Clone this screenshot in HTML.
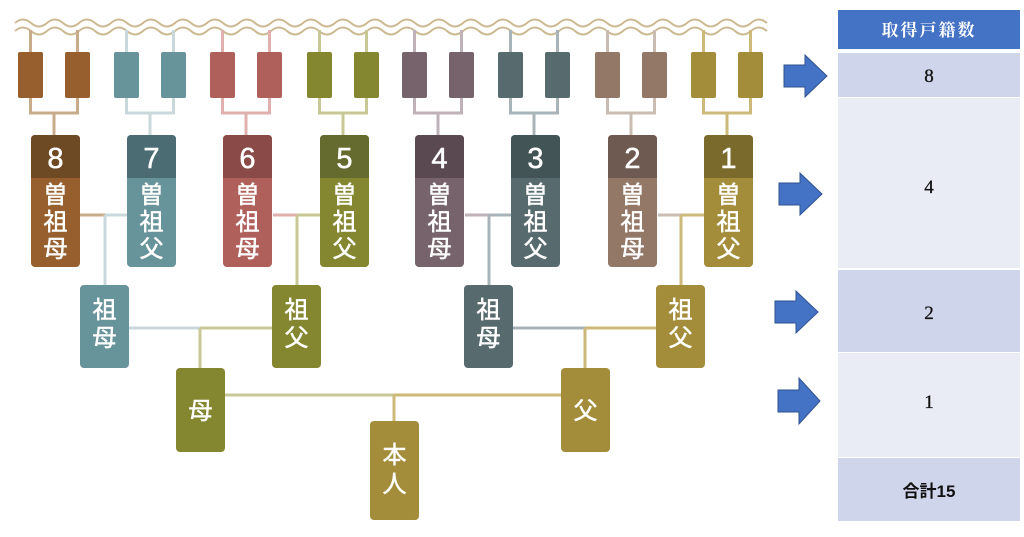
<!DOCTYPE html>
<html><head><meta charset="utf-8"><style>
html,body{margin:0;padding:0;background:#fff;}
svg{display:block;}
text{font-family:"Liberation Sans","Noto Sans CJK JP",sans-serif;fill:#fff;text-anchor:middle;stroke:#fff;stroke-width:0.5;}
.t{font-family:"Liberation Serif","Noto Serif CJK SC",serif;fill:#111;stroke:#111;stroke-width:0.3;font-size:19px;}
</style></head><body>
<svg width="1024" height="537" viewBox="0 0 1024 537" xmlns="http://www.w3.org/2000/svg">
<defs>
<path id="wave" d="M15 0 q8 -7 16 0 t16 0 t16 0 t16 0 t16 0 t16 0 t16 0 t16 0 t16 0 t16 0 t16 0 t16 0 t16 0 t16 0 t16 0 t16 0 t16 0 t16 0 t16 0 t16 0 t16 0 t16 0 t16 0 t16 0 t16 0 t16 0 t16 0 t16 0 t16 0 t16 0 t16 0 t16 0 t16 0 t16 0 t16 0 t16 0 t16 0 t16 0 t16 0 t16 0 t16 0 t16 0 t16 0 t16 0 t16 0 t16 0 t16 0" fill="none" stroke="#cdb991" stroke-width="2"/>
</defs>
<use href="#wave" y="23"/>
<use href="#wave" y="31"/>

<g>
<path d="M30.5 30V52M77.5 30V52M30.5 98V113H77.5V98M54 113V135" stroke="#c8ab8a" stroke-width="3" fill="none"/>
<rect x="18" y="52" width="25" height="46" rx="2" fill="#965f2d"/>
<rect x="65" y="52" width="25" height="46" rx="2" fill="#965f2d"/>
<rect x="31" y="135" width="49" height="132" rx="4" fill="#965f2d"/>
<path d="M35 135h41a4 4 0 0 1 4 4v39h-49v-39a4 4 0 0 1 4-4z" fill="#6e4a24"/>
<text x="55.5" y="168" font-size="29">8</text>
<text x="55.5" y="203" font-size="24">曽</text>
<text x="55.5" y="230" font-size="24">祖</text>
<text x="55.5" y="257" font-size="24">母</text>
</g>

<g transform="translate(96,0)">
<path d="M30.5 30V52M77.5 30V52M30.5 98V113H77.5V98M54 113V135" stroke="#c8d8db" stroke-width="3" fill="none"/>
<rect x="18" y="52" width="25" height="46" rx="2" fill="#67939a"/>
<rect x="65" y="52" width="25" height="46" rx="2" fill="#67939a"/>
<rect x="31" y="135" width="49" height="132" rx="4" fill="#67939a"/>
<path d="M35 135h41a4 4 0 0 1 4 4v39h-49v-39a4 4 0 0 1 4-4z" fill="#4a6c72"/>
<text x="55.5" y="168" font-size="29">7</text>
<text x="55.5" y="203" font-size="24">曽</text>
<text x="55.5" y="230" font-size="24">祖</text>
<text x="55.5" y="257" font-size="24">父</text>
</g>

<g transform="translate(192,0)">
<path d="M30.5 30V52M77.5 30V52M30.5 98V113H77.5V98M54 113V135" stroke="#e0b0ae" stroke-width="3" fill="none"/>
<rect x="18" y="52" width="25" height="46" rx="2" fill="#b0605b"/>
<rect x="65" y="52" width="25" height="46" rx="2" fill="#b0605b"/>
<rect x="31" y="135" width="49" height="132" rx="4" fill="#b0605b"/>
<path d="M35 135h41a4 4 0 0 1 4 4v39h-49v-39a4 4 0 0 1 4-4z" fill="#8a4a48"/>
<text x="55.5" y="168" font-size="29">6</text>
<text x="55.5" y="203" font-size="24">曽</text>
<text x="55.5" y="230" font-size="24">祖</text>
<text x="55.5" y="257" font-size="24">母</text>
</g>

<g transform="translate(289,0)">
<path d="M30.5 30V52M77.5 30V52M30.5 98V113H77.5V98M54 113V135" stroke="#c8c896" stroke-width="3" fill="none"/>
<rect x="18" y="52" width="25" height="46" rx="2" fill="#848630"/>
<rect x="65" y="52" width="25" height="46" rx="2" fill="#848630"/>
<rect x="31" y="135" width="49" height="132" rx="4" fill="#848630"/>
<path d="M35 135h41a4 4 0 0 1 4 4v39h-49v-39a4 4 0 0 1 4-4z" fill="#656a2e"/>
<text x="55.5" y="168" font-size="29">5</text>
<text x="55.5" y="203" font-size="24">曽</text>
<text x="55.5" y="230" font-size="24">祖</text>
<text x="55.5" y="257" font-size="24">父</text>
</g>

<g transform="translate(384,0)">
<path d="M30.5 30V52M77.5 30V52M30.5 98V113H77.5V98M54 113V135" stroke="#beb2b8" stroke-width="3" fill="none"/>
<rect x="18" y="52" width="25" height="46" rx="2" fill="#76636b"/>
<rect x="65" y="52" width="25" height="46" rx="2" fill="#76636b"/>
<rect x="31" y="135" width="49" height="132" rx="4" fill="#76636b"/>
<path d="M35 135h41a4 4 0 0 1 4 4v39h-49v-39a4 4 0 0 1 4-4z" fill="#5a4950"/>
<text x="55.5" y="168" font-size="29">4</text>
<text x="55.5" y="203" font-size="24">曽</text>
<text x="55.5" y="230" font-size="24">祖</text>
<text x="55.5" y="257" font-size="24">母</text>
</g>

<g transform="translate(480,0)">
<path d="M30.5 30V52M77.5 30V52M30.5 98V113H77.5V98M54 113V135" stroke="#a9b4b8" stroke-width="3" fill="none"/>
<rect x="18" y="52" width="25" height="46" rx="2" fill="#576b6f"/>
<rect x="65" y="52" width="25" height="46" rx="2" fill="#576b6f"/>
<rect x="31" y="135" width="49" height="132" rx="4" fill="#576b6f"/>
<path d="M35 135h41a4 4 0 0 1 4 4v39h-49v-39a4 4 0 0 1 4-4z" fill="#435456"/>
<text x="55.5" y="168" font-size="29">3</text>
<text x="55.5" y="203" font-size="24">曽</text>
<text x="55.5" y="230" font-size="24">祖</text>
<text x="55.5" y="257" font-size="24">父</text>
</g>

<g transform="translate(577,0)">
<path d="M30.5 30V52M77.5 30V52M30.5 98V113H77.5V98M54 113V135" stroke="#c9bcb2" stroke-width="3" fill="none"/>
<rect x="18" y="52" width="25" height="46" rx="2" fill="#937767"/>
<rect x="65" y="52" width="25" height="46" rx="2" fill="#937767"/>
<rect x="31" y="135" width="49" height="132" rx="4" fill="#937767"/>
<path d="M35 135h41a4 4 0 0 1 4 4v39h-49v-39a4 4 0 0 1 4-4z" fill="#6e5a50"/>
<text x="55.5" y="168" font-size="29">2</text>
<text x="55.5" y="203" font-size="24">曽</text>
<text x="55.5" y="230" font-size="24">祖</text>
<text x="55.5" y="257" font-size="24">母</text>
</g>

<g transform="translate(673,0)">
<path d="M30.5 30V52M77.5 30V52M30.5 98V113H77.5V98M54 113V135" stroke="#cdb97a" stroke-width="3" fill="none"/>
<rect x="18" y="52" width="25" height="46" rx="2" fill="#a48d3a"/>
<rect x="65" y="52" width="25" height="46" rx="2" fill="#a48d3a"/>
<rect x="31" y="135" width="49" height="132" rx="4" fill="#a48d3a"/>
<path d="M35 135h41a4 4 0 0 1 4 4v39h-49v-39a4 4 0 0 1 4-4z" fill="#7a6a2c"/>
<text x="55.5" y="168" font-size="29">1</text>
<text x="55.5" y="203" font-size="24">曽</text>
<text x="55.5" y="230" font-size="24">祖</text>
<text x="55.5" y="257" font-size="24">父</text>
</g>

<g stroke-width="3" fill="none">
<path d="M80 215H105" stroke="#c8ab8a"/><path d="M105 215H127M105 215V285" stroke="#c8d8db"/>
<path d="M273 215H297" stroke="#e0b0ae"/><path d="M297 215H320M297 215V285" stroke="#c8c896"/>
<path d="M465 215H489" stroke="#beb2b8"/><path d="M489 215H511M489 215V285" stroke="#a9b4b8"/>
<path d="M658 215H681" stroke="#c9bcb2"/><path d="M681 215H704M681 215V285" stroke="#cdb97a"/>
<path d="M129 328H200" stroke="#c8d8db"/><path d="M200 328H272M200 328V368" stroke="#c8c896"/>
<path d="M513 328H585" stroke="#a9b4b8"/><path d="M585 328H656M585 328V368" stroke="#cdb97a"/>
<path d="M225 395H394" stroke="#c8c896"/><path d="M394 395H561M394 395V421" stroke="#cdb97a"/>
</g>

<rect x="80" y="285" width="49" height="83" rx="4" fill="#67939a"/>
<text x="104.5" y="318" font-size="24">祖</text><text x="104.5" y="346" font-size="24">母</text>
<rect x="272" y="285" width="49" height="83" rx="4" fill="#848630"/>
<text x="296.5" y="318" font-size="24">祖</text><text x="296.5" y="346" font-size="24">父</text>
<rect x="464" y="285" width="49" height="83" rx="4" fill="#576b6f"/>
<text x="488.5" y="318" font-size="24">祖</text><text x="488.5" y="346" font-size="24">母</text>
<rect x="656" y="285" width="49" height="83" rx="4" fill="#a48d3a"/>
<text x="680.5" y="318" font-size="24">祖</text><text x="680.5" y="346" font-size="24">父</text>

<rect x="176" y="368" width="49" height="84" rx="4" fill="#848630"/>
<text x="200.5" y="419" font-size="24">母</text>
<rect x="561" y="368" width="49" height="84" rx="4" fill="#a48d3a"/>
<text x="585.5" y="419" font-size="24">父</text>
<rect x="370" y="421" width="49" height="99" rx="4" fill="#a48d3a"/>
<text x="394.5" y="463" font-size="24">本</text><text x="394.5" y="492" font-size="24">人</text>

<g fill="#4472c4" stroke="#2f528f" stroke-width="1">
<path d="M784 65H805V55L827 76L805 97V87H784Z"/>
<path d="M779 183H800V173L822 194L800 215V205H779Z"/>
<path d="M775 301H796V291L818 312L796 333V323H775Z"/>
<path d="M778 390H799V378L820 401L799 424V412H778Z"/>
</g>

<rect x="838" y="10" width="182" height="39" fill="#4472c4"/>
<text x="929" y="36" font-size="17" style="font-family:'Noto Serif CJK SC',serif;font-weight:bold;letter-spacing:2px;stroke:none">取得戸籍数</text>
<rect x="838" y="53" width="182" height="44" fill="#cfd5ea"/>
<rect x="838" y="98" width="182" height="170" fill="#e9ebf5"/>
<rect x="838" y="270" width="182" height="82" fill="#cfd5ea"/>
<rect x="838" y="353" width="182" height="93" fill="#e9ebf5"/>
<rect x="838" y="446" width="182" height="11" fill="#e9ebf5"/>
<rect x="838" y="458" width="182" height="63" fill="#cfd5ea"/>
<text class="t" x="929" y="82">8</text>
<text class="t" x="929" y="193">4</text>
<text class="t" x="929" y="319">2</text>
<text class="t" x="929" y="408">1</text>
<text x="929" y="497" font-size="17" style="fill:#111;stroke:none;font-weight:bold">合計15</text>
</svg>
</body></html>
